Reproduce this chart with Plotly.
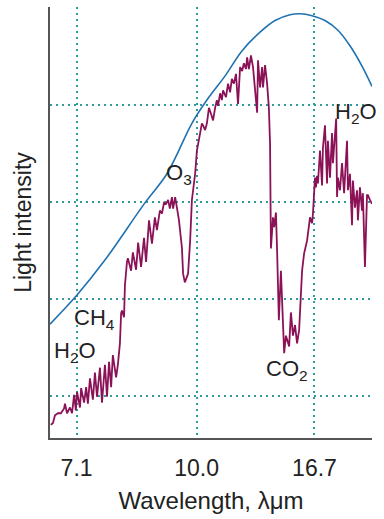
import plotly.graph_objects as go

# Measured spectrum (x: wavenumber, cm^-1 ; y: relative light intensity)
wavenumber = [1496, 1489, 1482, 1472, 1462, 1451, 1448, 1441, 1431, 1424,
              1417, 1411, 1407, 1397, 1393, 1383, 1376, 1370, 1363, 1353,
              1346, 1339, 1329, 1322, 1312, 1305, 1298, 1291, 1285, 1274,
              1268, 1261, 1257, 1254, 1247, 1244, 1237, 1234, 1223, 1217,
              1206, 1199, 1189, 1179, 1172, 1162, 1152, 1142, 1135, 1125,
              1118, 1111, 1104, 1097, 1091, 1084, 1080, 1073, 1067, 1060,
              1050, 1046, 1040, 1029, 1022, 1016, 1005, 999, 988, 982,
              978, 971, 965, 958, 951, 944, 937, 931, 927, 920,
              914, 910, 900, 893, 886, 880, 873, 866, 859, 852,
              845, 839, 832, 828, 822, 815, 808, 798, 794, 791,
              784, 777, 774, 767, 760, 754, 750, 747, 740, 736,
              730, 726, 720, 713, 702, 696, 685, 679, 672, 665,
              658, 651, 641, 634, 624, 614, 607, 604, 597, 594,
              590, 587, 580, 573, 570, 563, 556, 553, 546, 539,
              536, 525, 522, 519, 512, 505, 498, 488, 485, 478,
              471, 468, 461, 454, 451, 444, 437, 434, 427, 420,
              417, 410, 403]
intensity = [0.70, 0.72, 0.80, 0.82, 0.82, 0.87, 0.92, 0.82, 0.88, 0.82,
             1.01, 0.85, 1.04, 0.88, 1.08, 0.93, 1.09, 0.92, 1.18, 0.96,
             1.24, 0.99, 1.29, 0.93, 1.32, 0.99, 1.35, 1.09, 1.42, 1.19,
             1.32, 1.54, 1.85, 1.88, 1.81, 2.14, 2.38, 2.42, 2.29, 2.48,
             2.30, 2.58, 2.33, 2.63, 2.38, 2.81, 2.57, 2.84, 2.71, 2.91,
             2.88, 2.99, 2.98, 3.02, 2.93, 3.05, 2.93, 3.05, 2.94, 2.81,
             2.53, 2.26, 2.17, 2.26, 2.60, 3.02, 3.29, 3.53, 3.71, 3.81,
             3.79, 3.74, 3.81, 3.97, 3.91, 3.84, 3.97, 4.05, 3.99, 4.12,
             4.05, 4.15, 4.08, 4.22, 4.13, 4.27, 4.22, 4.32, 4.01, 4.39,
             4.35, 4.43, 4.37, 4.49, 4.37, 4.51, 4.39, 4.08, 3.92, 4.46,
             4.18, 4.39, 4.18, 4.41, 4.22, 3.97, 3.60, 2.52, 2.84, 2.74,
             2.89, 2.50, 1.78, 2.29, 1.44, 1.62, 1.51, 1.86, 1.62, 1.73,
             1.54, 1.68, 2.29, 2.47, 2.60, 2.84, 2.78, 2.88, 3.25, 3.15,
             3.27, 3.19, 3.53, 3.17, 3.56, 3.79, 3.19, 3.63, 3.25, 3.71,
             3.40, 3.86, 3.05, 3.25, 3.12, 3.40, 3.09, 3.63, 3.12, 3.29,
             2.76, 3.22, 2.94, 3.12, 2.81, 3.15, 2.91, 3.09, 2.33, 3.07,
             3.07, 3.02, 2.98]

# Blackbody envelope
bb_wavenumber = [1499, 1407, 1312, 1176, 1101, 1016, 965, 903, 845, 784,
                 733, 682, 648, 607, 563, 519, 478, 437, 403]
bb_intensity = [1.74, 2.04, 2.40, 2.99, 3.29, 3.81, 4.05, 4.30, 4.56, 4.75,
                4.87, 4.93, 4.94, 4.92, 4.87, 4.77, 4.61, 4.40, 4.19]

tick_um = [7.1, 10.0, 16.7]
tick_labels = ["7.1", "10.0", "16.7"]
grid_levels = [1, 2, 3, 4, 5]

TEAL = "#2f9c9c"
AXIS = "#555555"
TEXT = "#222222"
FONT = "Arial, 'Liberation Sans', Helvetica, sans-serif"

fig = go.Figure()
fig.add_trace(go.Scatter(x=bb_wavenumber, y=bb_intensity, mode="lines",
                         line=dict(color="#1f72b2", width=1.6, shape="spline", smoothing=1.0),
                         hoverinfo="skip"))
fig.add_trace(go.Scatter(x=wavenumber, y=intensity, mode="lines",
                         line=dict(color="#8c1258", width=1.8),
                         hoverinfo="skip"))

fig.update_layout(
    width=384, height=519,
    margin=dict(l=50, r=12, t=7, b=81),
    plot_bgcolor="white", paper_bgcolor="white",
    showlegend=False,
    font=dict(family=FONT, color=TEXT, size=22),
)
fig.update_xaxes(
    range=[1499, 403],
    tickvals=[1e4 / w for w in tick_um], ticktext=tick_labels,
    showgrid=True, gridcolor=TEAL, griddash="2px,4px", gridwidth=1.5,
    showline=True, linecolor=AXIS, linewidth=2,
    ticks="outside", ticklen=8, tickcolor="rgba(0,0,0,0)",
    tickfont=dict(size=23, color=TEXT),
    zeroline=False,
    title=dict(text="Wavelength, λμm", standoff=13, font=dict(size=24, color=TEXT)),
)
fig.update_yaxes(
    range=[0.565, 5.01],
    tickvals=grid_levels, showticklabels=False, ticks="",
    showgrid=True, gridcolor=TEAL, griddash="2px,4px", gridwidth=1.5,
    showline=True, linecolor=AXIS, linewidth=2,
    zeroline=False,
    title=dict(text="Light intensity", standoff=10, font=dict(size=23, color=TEXT)),
)

labels = [
    ("O<sub>3</sub>", 1111, 3.29),
    ("H<sub>2</sub>O", 536, 3.92),
    ("CH<sub>4</sub>", 1424, 1.79),
    ("H<sub>2</sub>O", 1492, 1.45),
    ("CO<sub>2</sub>", 770, 1.27),
]
for text, x, y in labels:
    fig.add_annotation(x=x, y=y, text=text, showarrow=False,
                       xanchor="left", yanchor="middle",
                       font=dict(size=22, color=TEXT, family=FONT))

fig.write_html("out.html", config={"displayModeBar": False},
               post_script="document.body.style.margin='0';")
